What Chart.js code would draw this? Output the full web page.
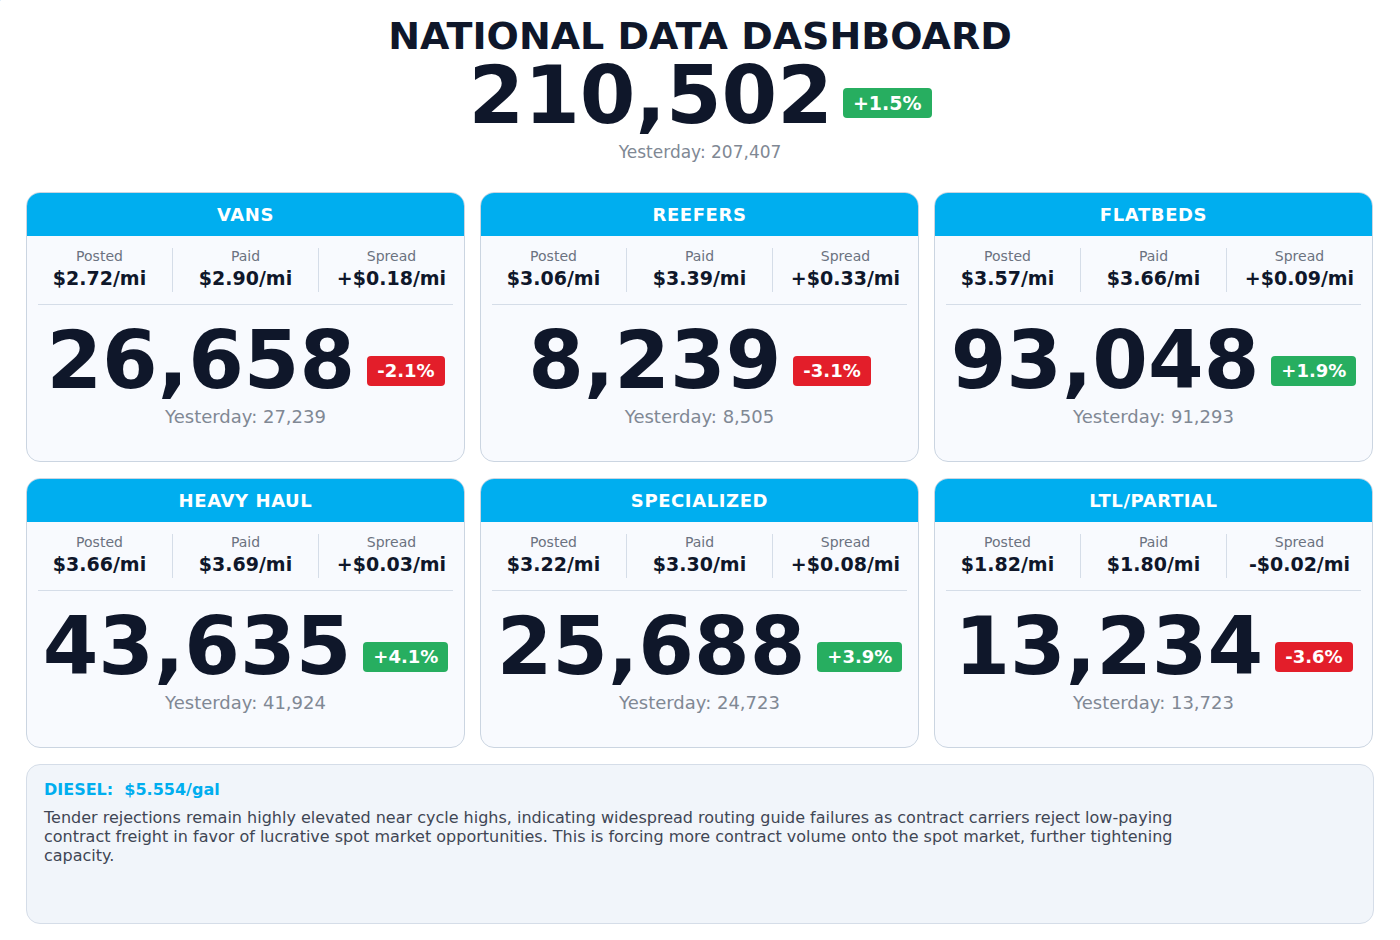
<!DOCTYPE html>
<html><head><meta charset="utf-8">
<script src="https://cdn.jsdelivr.net/npm/chart.js@4"></script>
<style>
body{margin:0;width:1400px;height:940px;background:#fff;font-family:"DejaVu Sans",sans-serif;color:#0f172a;position:relative}
.title{position:absolute;top:13px;width:100%;text-align:center;font-size:38px;font-weight:bold;line-height:46px}
.hero{position:absolute;top:56px;width:100%;text-align:center;font-size:80px;font-weight:bold;line-height:80px}
.badge{display:inline-block;color:#fff;font-weight:bold;border-radius:4px;vertical-align:middle}
.hero .badge{font-size:19px;padding:4px 10px;line-height:22px;position:relative;top:2px;margin-left:10px;background:#27ae60}
.yest0{position:absolute;top:142px;width:100%;text-align:center;font-size:17px;color:#808894}
.card{position:absolute;width:437px;height:268px;border:1px solid #cbd5e1;border-radius:14px;background:#f8fafe;overflow:hidden}
.hd{height:43px;background:#00aeef;color:#fff;font-weight:bold;font-size:18px;text-align:center;line-height:43px;letter-spacing:0.6px}
.stats{display:flex;margin-top:12px}
.st{flex:1;text-align:center;border-right:1px solid #d5dde8}
.st:last-child{border-right:none}
.st .l{font-size:14px;color:#6b7280;line-height:17px}
.st .v{font-size:19px;font-weight:bold;line-height:27px}
.rule{margin:12px 11px 0;border-top:1px solid #d5dde8}
.big{text-align:center;font-size:80px;font-weight:bold;line-height:94px;margin-top:9px;white-space:nowrap}
.big .badge{font-size:18px;padding:4px 10px;line-height:22px;position:relative;top:5px;margin-left:12px}
.yest{text-align:center;font-size:18px;color:#808894;margin-top:-2px}
.foot{position:absolute;left:26px;top:764px;width:1346px;height:158px;border:1px solid #d5dde8;border-radius:14px;background:#f1f5fa}
.foot .d{margin:15px 0 0 17px;color:#00aeef;font-weight:bold;font-size:16px;white-space:pre}
.foot .t{margin:9px 0 0 17px;width:1150px;font-size:16px;line-height:19px;color:#3f4654}
</style></head><body>
<canvas id="c" width="1" height="1" style="position:absolute;left:0;top:0;width:1px;height:1px"></canvas>
<div class="title">NATIONAL DATA DASHBOARD</div>
<div class="hero" id="hero"></div>
<div class="yest0" id="y0"></div>
<div id="cards"></div>
<div class="foot"><div class="d" id="dsl"></div><div class="t" id="txt"></div></div>
<script>
const categories = ["VANS","REEFERS","FLATBEDS","HEAVY HAUL","SPECIALIZED","LTL/PARTIAL"];
const posted = [2.72,3.06,3.57,3.66,3.22,1.82];
const paid = [2.90,3.39,3.66,3.69,3.30,1.80];
const loads = [26658,8239,93048,43635,25688,13234];
const yesterday = [27239,8505,91293,41924,24723,13723];
const changes = [-2.1,-3.1,1.9,4.1,3.9,-3.6];
const national = [210502,207407,1.5];
const diesel = 5.554;
const note = "Tender rejections remain highly elevated near cycle highs, indicating widespread routing guide failures as contract carriers reject low-paying contract freight in favor of lucrative spot market opportunities. This is forcing more contract volume onto the spot market, further tightening capacity.";

const fmt = n => n.toLocaleString('en-US');
const pct = p => (p>0?'+':'')+p.toFixed(1)+'%';
const col = p => p>=0?'#27ae60':'#e31e2a';
const money = v => (v<0?'-':'+')+'$'+Math.abs(v).toFixed(2)+'/mi';

document.getElementById('hero').innerHTML = fmt(national[0])+'<span class="badge">'+pct(national[2])+'</span>';
document.getElementById('y0').textContent = 'Yesterday: '+fmt(national[1]);
document.getElementById('dsl').textContent = 'DIESEL:  $'+diesel.toFixed(3)+'/gal';
document.getElementById('txt').textContent = note;

let html = '';
categories.forEach((c,i) => {
    const x = 26 + (i%3)*454, y = 192 + Math.floor(i/3)*286;
    html += '<div class="card" style="left:'+x+'px;top:'+y+'px"><div class="hd">'+c+'</div>'
        +'<div class="stats"><div class="st"><div class="l">Posted</div><div class="v">$'+posted[i].toFixed(2)+'/mi</div></div>'
        +'<div class="st"><div class="l">Paid</div><div class="v">$'+paid[i].toFixed(2)+'/mi</div></div>'
        +'<div class="st"><div class="l">Spread</div><div class="v">'+money(Math.round((paid[i]-posted[i])*100)/100)+'</div></div></div>'
        +'<div class="rule"></div>'
        +'<div class="big">'+fmt(loads[i])+'<span class="badge" style="background:'+col(changes[i])+'">'+pct(changes[i])+'</span></div>'
        +'<div class="yest">Yesterday: '+fmt(yesterday[i])+'</div></div>';
});
document.getElementById('cards').innerHTML = html;

// hidden chart keeps the loads on a library scale
new Chart(document.getElementById('c'), {
    type: 'bar',
    data: {labels: categories, datasets: [{data: loads}]},
    options: {responsive: false, animation: false, plugins: {legend: {display: false}}, scales: {x: {display: false}, y: {display: false}}}
});
</script>
</body></html>
